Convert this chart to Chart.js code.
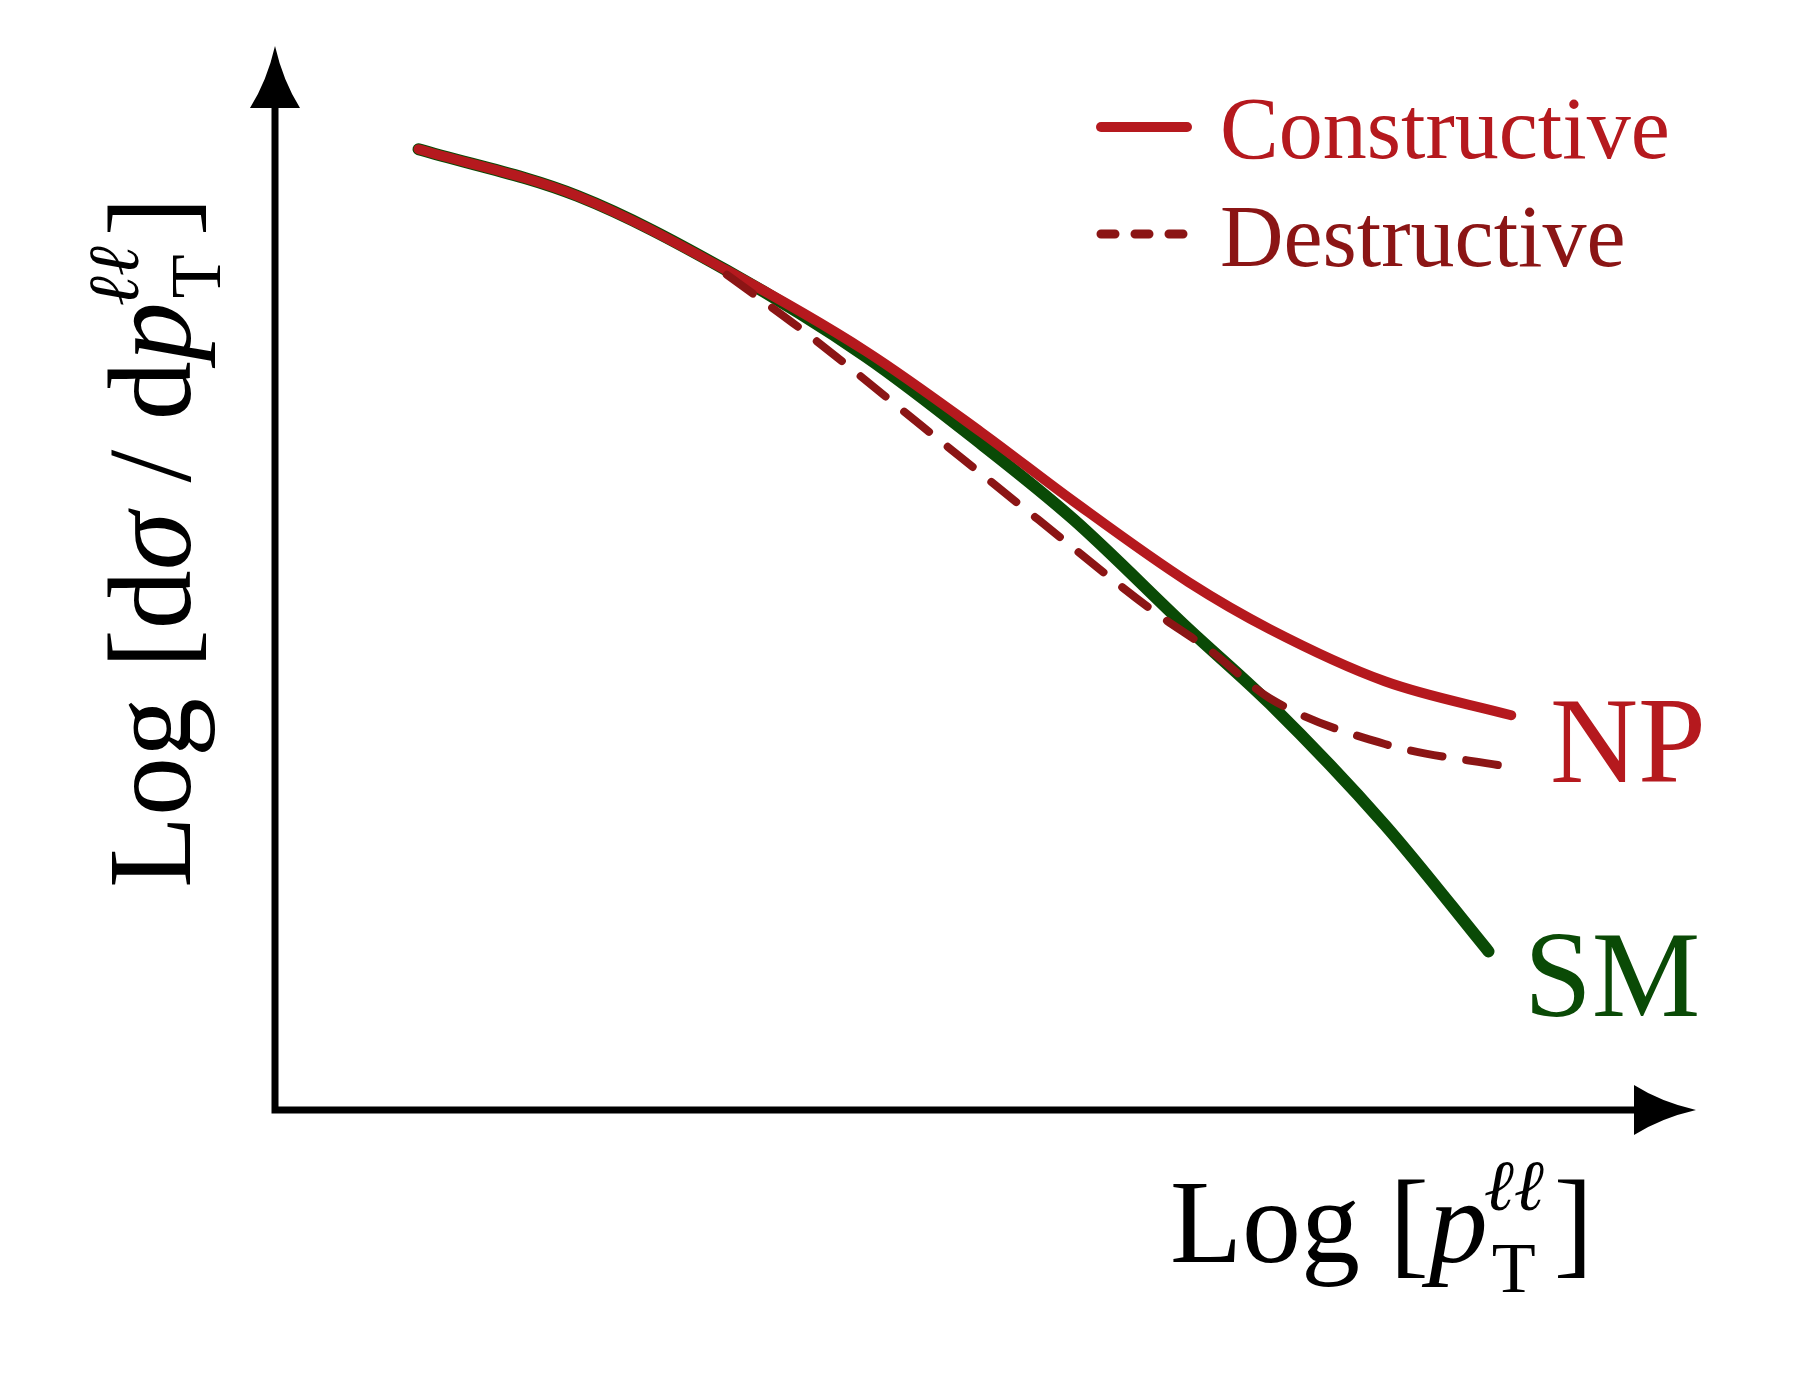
<!DOCTYPE html>
<html><head><meta charset="utf-8">
<script src="https://cdn.jsdelivr.net/npm/chart.js@4"></script>
<style>html,body{margin:0;background:#fff}#w{width:1800px;height:1379px}</style>
</head><body><div id="w"><canvas id="c"></canvas></div>
<script>
const smX=[10.1,21.3,31.8,41.6,49.7,56.2,64.3,70,78.1,85.4];
const smY=[90.3,85.9,78.9,70.8,62.6,55.5,45.2,38.2,26.8,14.9];
const conX=[10.1,21.3,31.8,41.6,49.7,56.2,64.3,70,78.1,87];
const conY=[90.3,85.9,78.9,71.3,63.7,57.2,49.6,45.2,40.3,37.1];
const desX=[31.8,37.5,45.6,53.7,61.8,65.9,70,78.1,87];
const desY=[78.5,72.9,64.2,55.5,46.9,43.1,38.7,34.4,32.2];
const legendLabels=['Constructive','Destructive'];
const pts=(xs,ys)=>xs.map((x,i)=>({x,y:ys[i]}));
const RED='#b5191e',DRED='#8b1515',GRN='#0a4a06';
const F='"Liberation Serif","DejaVu Serif",serif';
function pT(c,x,y){ // p with superscript ll and subscript T; returns end x
  c.font='italic 118px '+F;c.fillText('p',x,y);x+=c.measureText('p').width;
  c.font='italic 72px '+F;c.fillText('ℓℓ',x-4,y-52);const w1=c.measureText('ℓℓ').width;
  c.font='72px '+F;c.fillText('T',x+4,y+30);const w2=c.measureText('T').width;
  return x+Math.max(w1,w2+4)+6;
}
const deco={id:'deco',afterDraw(ch){
  const c=ch.ctx,a=ch.chartArea;c.save();
  c.strokeStyle='#000';c.fillStyle='#000';c.lineWidth=7;
  c.beginPath();c.moveTo(a.left,a.top+40);c.lineTo(a.left,a.bottom);c.lineTo(a.right-40,a.bottom);c.stroke();
  c.beginPath();c.moveTo(a.left,a.top);c.quadraticCurveTo(a.left+8,a.top+35,a.left+25,a.top+62);c.lineTo(a.left-25,a.top+62);c.quadraticCurveTo(a.left-8,a.top+35,a.left,a.top);c.fill();
  c.beginPath();c.moveTo(a.right,a.bottom);c.quadraticCurveTo(a.right-35,a.bottom+8,a.right-62,a.bottom+25);c.lineTo(a.right-62,a.bottom-25);c.quadraticCurveTo(a.right-35,a.bottom-8,a.right,a.bottom);c.fill();
  c.lineCap='round';c.strokeStyle=RED;c.lineWidth=10;c.beginPath();c.moveTo(1101,127);c.lineTo(1187,127);c.stroke();
  c.strokeStyle=DRED;c.lineWidth=9;c.setLineDash([14,20]);c.beginPath();c.moveTo(1101,234);c.lineTo(1187,234);c.stroke();c.setLineDash([]);
  c.fillStyle=RED;c.font='88px '+F;c.fillText(legendLabels[0],1220,158);
  c.fillStyle=DRED;c.fillText(legendLabels[1],1220,266);
  c.fillStyle=RED;c.font='122px '+F;c.fillText('NP',1550,782);
  c.fillStyle=GRN;c.fillText('SM',1524,1016);
  c.fillStyle='#000';
  c.font='118px '+F;c.fillText('Log [',1170,1262);let x=1170+c.measureText('Log [').width;
  x=pT(c,x,1262);c.font='118px '+F;c.fillText(']',x,1262);
  c.translate(190,888);c.rotate(-Math.PI/2);
  c.font='118px '+F;c.fillText('Log [d',0,0);x=c.measureText('Log [d').width;
  c.font='italic 118px '+F;c.fillText('σ',x,0);x+=c.measureText('σ').width;
  c.font='118px '+F;c.fillText(' / d',x,0);x+=c.measureText(' / d').width;
  x=pT(c,x,0);c.font='118px '+F;c.fillText(']',x,0);
  c.restore();
}};
const ds=(xs,ys,col,w,dash)=>({data:pts(xs,ys),borderColor:col,borderWidth:w,borderDash:dash||[],showLine:true,pointRadius:0,cubicInterpolationMode:'monotone',borderCapStyle:'round'});
new Chart(document.getElementById('c'),{type:'scatter',
 data:{datasets:[ds(desX,desY,DRED,8,[32,24]),ds(conX,conY,RED,10),ds(smX,smY,GRN,12)]},
 options:{responsive:true,maintainAspectRatio:false,animation:false,
  layout:{padding:{left:275,right:104,top:46,bottom:269}},
  plugins:{legend:{display:false},tooltip:{enabled:false}},
  scales:{x:{display:false,min:0,max:100},y:{display:false,min:0,max:100}}},
 plugins:[deco]});
</script></body></html>
